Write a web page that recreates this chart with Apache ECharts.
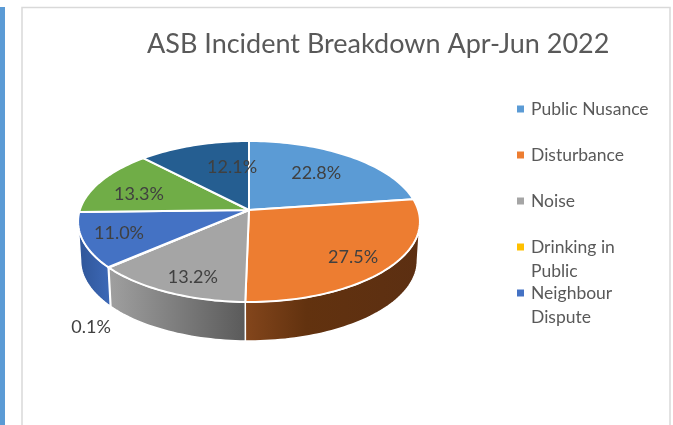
<!DOCTYPE html>
<html><head><meta charset="utf-8">
<style>html,body{margin:0;padding:0;background:#fff}#c{width:673px;height:425px}</style>
<script src="https://cdn.jsdelivr.net/npm/echarts@6/dist/echarts.min.js"></script>
</head><body><div id="c"></div>
<script>
const chartTitle = 'ASB Incident Breakdown Apr-Jun 2022';
const categories = ['Public Nusance','Disturbance','Noise','Drinking in Public','Neighbour Dispute','Other A','Other B'];
const shares = [22.8,27.5,13.2,0.1,11.0,13.3,12.1];
const legendCategories = ['Public Nusance','Disturbance','Noise','Drinking in Public','Neighbour Dispute'];
const legendWraps = {'Drinking in Public':['Drinking in','Public'],'Neighbour Dispute':['Neighbour','Dispute']};
const topColors = ['#5b9bd5','#ed7d31','#a5a5a5','#ffc000','#4472c4','#70ad47','#255e91'];

// styling & layout of the tilted pie (not data)
const wallStops = {
  1:[[0,'#84461c'],[0.35,'#62320f'],[1,'#5c2f12']],
  2:[[0,'#a0a0a0'],[1,'#5a5a5a']],
  4:[[0,'#2f5597'],[1,'#3d69b8']]
};
const labelPlacement = [[.659,-.8],[.789,2.5],[.813,-3.5],[1.446,-16.6],[.789,.4],[.7015,-5.2],[.601,11.4]];
const P = {cx:249, cy:210, a:78.86, b:169.2, k:1/7, depth:39, shrink:.985};
const rad = d => d*Math.PI/180;
function proj(deg, r){
  const u = r*Math.sin(rad(deg)), v = r*Math.cos(rad(deg)), w = 1+P.k*v;
  return [P.cx+P.b*u/w, P.cy-P.a*v/w];
}
function lower(p){ return [P.cx+(p[0]-P.cx)*P.shrink, p[1]+P.depth]; }
function arc(a0,a1){
  const n = Math.max(2,Math.ceil(Math.abs(a1-a0)/1.5)), pts=[];
  for(let i=0;i<=n;i++) pts.push(proj(a0+(a1-a0)*i/n,1));
  return pts;
}
function renderSlice(params, api){
  const idx = params.seriesIndex, val = api.value(0), start = api.value(1);
  const a0 = start*3.6, a1 = (start+val)*3.6, kids = [];
  kids.push({type:'polygon', z2:10, shape:{points:[[P.cx,P.cy]].concat(arc(a0,a1))},
    style:{fill:topColors[idx], stroke:'#fff', lineWidth:2, lineJoin:'round'}});
  const w0 = Math.max(a0,98.2), w1 = Math.min(a1,261.8);
  if (w1>w0 && wallStops[idx]){
    const top = arc(w0,w1), bot = top.map(lower).reverse(), all = top.concat(bot);
    const colorStops = wallStops[idx].map(s=>({offset:s[0],color:s[1]}));
    const grad = new echarts.graphic.LinearGradient(0,0,1,0,colorStops);
    kids.push({type:'polygon', z2:1, shape:{points:all},
      style:{fill:grad, stroke:'#fff', lineWidth:1.5}});
  }
  const lp = labelPlacement[idx], m = (a0+a1)/2+lp[1], t = proj(m,lp[0]);
  kids.push({type:'text', z2:20, x:t[0], y:t[1], style:{text:val.toFixed(1)+'%', fill:'#404040',
    font:'18px Lato', align:'center', verticalAlign:'middle'}});
  return {type:'group', children:kids};
}
let running = 0;
const series = categories.map((name,i)=>{
  const item = {type:'custom', name, coordinateSystem:'none', silent:true, animation:false,
    itemStyle:{color:topColors[i]}, renderItem:renderSlice,
    data:[{value:[shares[i],running]}]};
  running += shares[i];
  return item;
});
const chart = echarts.init(document.getElementById('c'),null,{renderer:'canvas'});
chart.setOption({
  animation:false, backgroundColor:'#fff',
  title:{text:chartTitle,left:147,top:31,padding:0,textStyle:{fontFamily:'Lato',fontSize:27,fontWeight:'normal',color:'#595959'}},
  legend:{orient:'vertical',left:517,top:73,padding:0,itemGap:-26,itemWidth:7,itemHeight:7,icon:'rect',
    selectedMode:false,data:legendCategories,
    formatter:n=>{const l=legendWraps[n]||[n,' '];return ' \n'+l[0]+'\n'+l[1];},
    textStyle:{fontFamily:'Lato',fontSize:17.5,lineHeight:24,color:'#595959',padding:[0,0,0,2]}},
  graphic:[
    {type:'rect',silent:true,shape:{x:0,y:7,width:5,height:418},style:{fill:'#5b9bd5'}},
    {type:'rect',silent:true,shape:{x:22,y:7.5,width:648,height:430},style:{fill:'none',stroke:'#d9d9d9',lineWidth:1.5}}
  ],
  series
});
</script></body></html>
